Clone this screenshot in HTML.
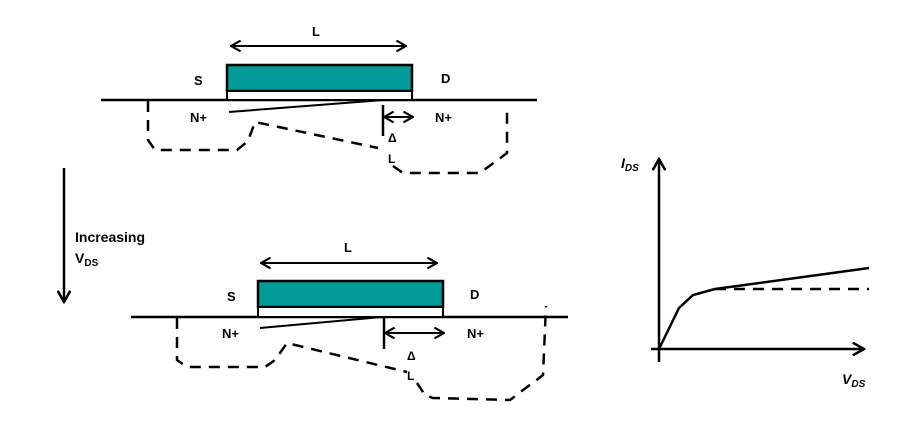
<!DOCTYPE html>
<html><head><meta charset="utf-8"><style>
body{margin:0;background:#fff;}
svg{display:block;font-family:"Liberation Sans",Arial,sans-serif;font-weight:bold;}
</style></head><body>
<svg id="svg" width="922" height="435" viewBox="0 0 922 435">
<defs>
<marker id="ah" viewBox="0 0 10 10" refX="9" refY="5" markerWidth="12" markerHeight="12" markerUnits="userSpaceOnUse" orient="auto-start-reverse">
<path d="M1,0.5 L9,5 L1,9.5" fill="none" stroke="#000" stroke-width="1.8"/></marker>
<marker id="ah2" viewBox="0 0 10 10" refX="9" refY="5" markerWidth="14" markerHeight="14" markerUnits="userSpaceOnUse" orient="auto-start-reverse">
<path d="M1,0.5 L9,5 L1,9.5" fill="none" stroke="#000" stroke-width="1.8"/></marker>
</defs>

<!-- Top device -->
<g stroke="#000" fill="none" stroke-width="2.5">
<line x1="101" y1="100" x2="537" y2="100"/>
<rect x="227" y="65" width="185" height="26" fill="#009a98"/>
<rect x="227" y="91" width="185" height="9" fill="#fff" stroke-width="2"/>
<line x1="231" y1="46" x2="406" y2="46" stroke-width="2" marker-start="url(#ah)" marker-end="url(#ah)"/>
<line x1="229" y1="112" x2="383" y2="100" stroke-width="2"/>
<line x1="383" y1="105" x2="383" y2="136"/>
<line x1="384" y1="117" x2="413" y2="117" stroke-width="2" marker-start="url(#ah)" marker-end="url(#ah)"/>
<path stroke-dasharray="11,8" d="M148,101 L148,140 L155,150 L237,150 L248,141 L255,122 L378,148 M393,166 L403,173 L480,173 L507,153 L507,108"/>
</g>
<g font-size="13" fill="#000">
<text x="312" y="36">L</text>
<text x="194" y="85">S</text>
<text x="441" y="83">D</text>
<text x="190" y="122">N+</text>
<text x="435" y="122">N+</text>
<text x="388" y="142" font-size="12">Δ</text>
<text x="388" y="163" font-size="12">L</text>
</g>

<!-- Increasing VDS arrow -->
<line x1="64" y1="168" x2="64" y2="302" stroke="#000" stroke-width="2.5" marker-end="url(#ah2)"/>
<text x="75" y="242" font-size="14">Increasing</text>
<text x="75" y="263" font-size="14">V<tspan font-size="10" dy="3">DS</tspan></text>

<!-- Bottom device -->
<g stroke="#000" fill="none" stroke-width="2.5">
<line x1="131" y1="317" x2="568" y2="317"/>
<rect x="258" y="281" width="185" height="26" fill="#009a98"/>
<rect x="258" y="307" width="185" height="10" fill="#fff" stroke-width="2"/>
<line x1="261" y1="263" x2="437" y2="263" stroke-width="2" marker-start="url(#ah)" marker-end="url(#ah)"/>
<line x1="260" y1="328" x2="382" y2="317" stroke-width="2"/>
<line x1="384" y1="318" x2="384" y2="349"/>
<line x1="385" y1="333" x2="444" y2="333" stroke-width="2" marker-start="url(#ah)" marker-end="url(#ah)"/>
<path stroke-dasharray="11,8" d="M177,318 L177,360 L187,367 L265,367 L275,360 L287,343 L407,372 M417,383 L425,395 L433,398 L510,400 L543,375 L546,306"/>
</g>
<g font-size="13" fill="#000">
<text x="344" y="252">L</text>
<text x="227" y="301">S</text>
<text x="470" y="299">D</text>
<text x="222" y="338">N+</text>
<text x="467" y="338">N+</text>
<text x="407" y="360" font-size="12">Δ</text>
<text x="407" y="380" font-size="12">L</text>
</g>

<!-- IV chart -->
<g id="chart">
<line x1="659" y1="362" x2="659" y2="159" stroke="#000" stroke-width="2.5" marker-end="url(#ah2)"/>
<line x1="651" y1="349" x2="864" y2="349" stroke="#000" stroke-width="2.5" marker-end="url(#ah2)"/>
<text x="621" y="168" font-size="14" font-style="italic">I<tspan font-size="10" dy="3">DS</tspan></text>
<text x="842" y="384" font-size="14" font-style="italic">V<tspan font-size="10" dy="3">DS</tspan></text>
</g>
</svg>
<script>
// I-V curve data (arbitrary units): VDS and IDS
const vdsLinear = [0, 1, 1.7, 2.8];
const idsLinear = [0, 2.05, 2.7, 3.0];
const vdsSat = [2.8, 10.5];
const idsSatWithCLM = [3.0, 4.05];
const idsSatIdeal = [3.0, 3.0];

const x0 = 659, xs = 20, y0 = 349, ys = 20;
function X(v){ return x0 + v * xs; }
function Y(i){ return y0 - i * ys; }
const NS = 'http://www.w3.org/2000/svg';
const chart = document.getElementById('chart');
function poly(xsArr, ysArr, dash){
  const p = document.createElementNS(NS, 'polyline');
  p.setAttribute('points', xsArr.map((v,k)=>X(v)+','+Y(ysArr[k])).join(' '));
  p.setAttribute('fill','none');
  p.setAttribute('stroke','#000');
  p.setAttribute('stroke-width','2.5');
  if(dash) p.setAttribute('stroke-dasharray', dash);
  chart.appendChild(p);
  return p;
}
const lin = poly(vdsLinear, idsLinear);


const sat = poly(vdsSat, idsSatWithCLM);


const ideal = poly(vdsSat, idsSatIdeal, '11,8');


</script>
</body></html>
